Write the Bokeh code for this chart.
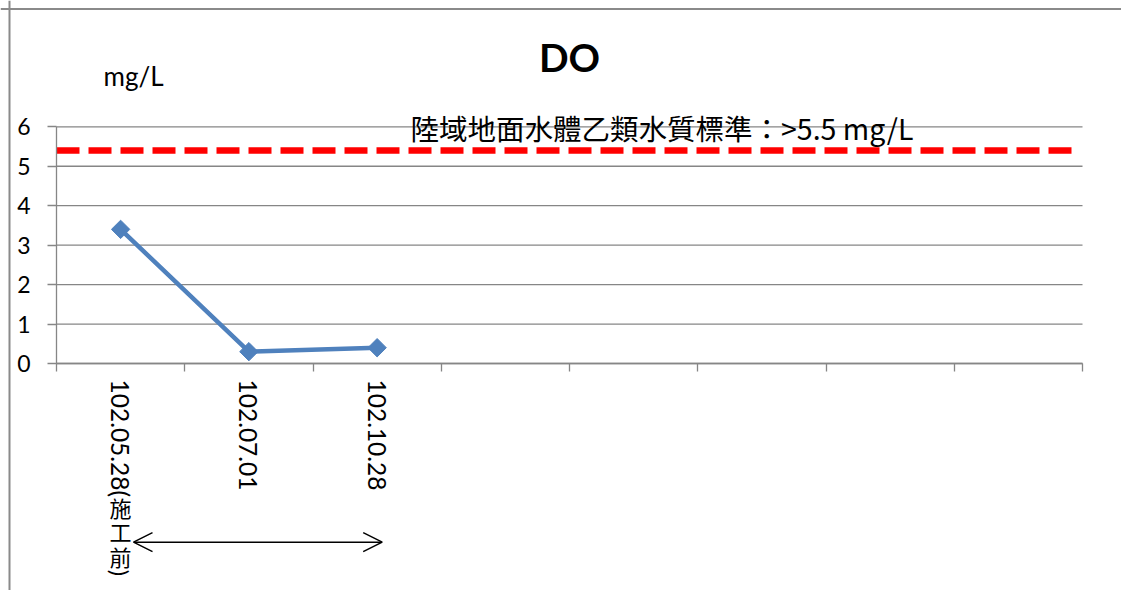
import numpy as np
from bokeh.plotting import figure
from bokeh.models import FixedTicker, Range1d, Span, Arrow, OpenHead
from bokeh.core.properties import value
from bokeh.embed import file_html
from bokeh.resources import INLINE

# ---------------- data ----------------
categories = ["102.05.28(施工前)", "102.07.01", "102.10.28"]
do_values = [3.4, 0.3, 0.4]
n_slots = 8
y_ticks = [0, 1, 2, 3, 4, 5, 6]
standard_value = 5.4
standard_label = "陸域地面水體乙類水質標準：>5.5 mg/L"
title_text = "DO"
unit_text = "mg/L"

# ---------------- geometry (page pixels) ----------------
W, H = 1121, 590
PAGE_X0, PAGE_Y0 = 0, 0
AX_X0, SLOT_PX = 56, 128.25      # page x of category axis start, px per slot
AX_Y0, UNIT_PX = 363, 39.45      # page y of value 0, px per unit


def dx(px):
    return (px - AX_X0) / SLOT_PX


def dy(py):
    return (AX_Y0 - py) / UNIT_PX


GRID = "#868686"
BLUE = "#4F81BD"
LATIN = "Lato"
CJK = "Noto Sans CJK TC"

p = figure(width=W, height=H,
           x_range=Range1d(dx(PAGE_X0), dx(PAGE_X0 + W)),
           y_range=Range1d(dy(PAGE_Y0 + H), dy(PAGE_Y0)),
           output_backend="svg", toolbar_location=None, title_location=None,
           min_border=0, min_border_left=0, min_border_right=0,
           min_border_top=0, min_border_bottom=0)
p.outline_line_color = None
p.background_fill_color = "white"
p.border_fill_color = "white"
p.xgrid.visible = False
p.ygrid.visible = False

# outer chart border (left and top visible in the crop)
p.add_layout(Span(location=dx(9), dimension="height", line_color="#8a8a8a", line_width=2))
p.add_layout(Span(location=dy(8.5), dimension="width", line_color="#8a8a8a", line_width=2))

# horizontal gridlines
p.segment(x0=0, x1=n_slots, y0=y_ticks, y1=y_ticks, line_color=GRID, line_width=1.3)

# y axis
ya = p.yaxis[0]
ya.fixed_location = 0
ya.bounds = (min(y_ticks), max(y_ticks))
ya.ticker = FixedTicker(ticks=y_ticks)
ya.axis_line_color = GRID
ya.axis_line_width = 1.3
ya.major_tick_line_color = GRID
ya.major_tick_line_width = 1.3
ya.major_tick_out = 9
ya.major_tick_in = 0
ya.minor_tick_line_color = None
ya.major_label_standoff = 17
ya.major_label_text_font = LATIN
ya.major_label_text_font_size = "23px"
ya.major_label_text_color = "black"

# x axis (category slots)
centers = [i + 0.5 for i in range(len(categories))]
first_split = categories[0].index("(") + 1
axis_labels = [categories[0][:first_split]] + categories[1:]
xa = p.xaxis[0]
xa.fixed_location = 0
xa.bounds = (0, n_slots)
xa.ticker = FixedTicker(ticks=centers, minor_ticks=list(range(n_slots + 1)))
xa.major_label_overrides = {c: lab for c, lab in zip(centers, axis_labels)}
xa.axis_line_color = GRID
xa.axis_line_width = 1.3
xa.major_tick_out = 0
xa.major_tick_in = 0
xa.major_tick_line_color = None
xa.minor_tick_line_color = GRID
xa.minor_tick_line_width = 1.3
xa.minor_tick_out = 8
xa.minor_tick_in = 0
xa.major_label_orientation = -np.pi / 2
xa.major_label_standoff = 8
xa.major_label_text_font = LATIN
xa.major_label_text_font_size = "24.5px"
xa.major_label_text_color = "black"

# remainder of first label: CJK upright, punctuation rotated
cursor = 494.0
up_x, up_y, up_t, rot_x, rot_y, rot_t = [], [], [], [], [], []
for ch in categories[0][first_split:]:
    if ord(ch) > 0x2E80:
        up_x.append(centers[0]); up_y.append(dy(cursor + 12.25)); up_t.append(ch)
        cursor += 24.5
    else:
        rot_x.append(centers[0]); rot_y.append(dy(cursor + 5)); rot_t.append(ch)
        cursor += 10
p.text(x=up_x, y=up_y, text=up_t, text_align="center", text_baseline="middle",
       text_font=value(CJK), text_font_size="22px", text_color="black")
p.text(x=rot_x, y=rot_y, text=rot_t, angle=-np.pi / 2, text_align="center",
       text_baseline="middle", text_font=value(LATIN), text_font_size="24px",
       text_color="black")

# standard dashed line
STD_X_END = 7.92
p.line(x=[0, STD_X_END], y=[standard_value, standard_value], line_color="#FF0000",
       line_width=6.5, line_dash="23 9")

# data series
p.line(x=centers, y=do_values, line_color=BLUE, line_width=4.5)
p.scatter(x=centers, y=do_values, marker="square", angle=np.pi / 4, size=13,
          fill_color=BLUE, line_color=BLUE, line_width=1)

# texts
p.text(x=[n_slots / 2], y=[dy(56.5)], text=[title_text], text_align="center",
       text_baseline="alphabetic", text_font=value(LATIN), text_font_style="bold",
       text_font_size="39px", text_color="black")
p.text(x=[dx(103)], y=[dy(75)], text=[unit_text], text_align="left",
       text_baseline="alphabetic", text_font=value(LATIN), text_font_size="26px",
       text_color="black")
p.text(x=[dx(410)], y=[dy(127)], text=[standard_label], text_align="left",
       text_baseline="alphabetic", text_font=value(CJK), text_font_size="28.5px",
       text_color="black")

# arrow below the x labels
p.add_layout(Arrow(x_start=dx(133), y_start=dy(541.7), x_end=dx(381.7), y_end=dy(541.7),
                   start=OpenHead(size=19, line_width=1.5, line_color="black"),
                   end=OpenHead(size=19, line_width=1.5, line_color="black"),
                   line_width=1.5, line_color="black"))

open("out.html", "w").write(file_html(p, INLINE))
